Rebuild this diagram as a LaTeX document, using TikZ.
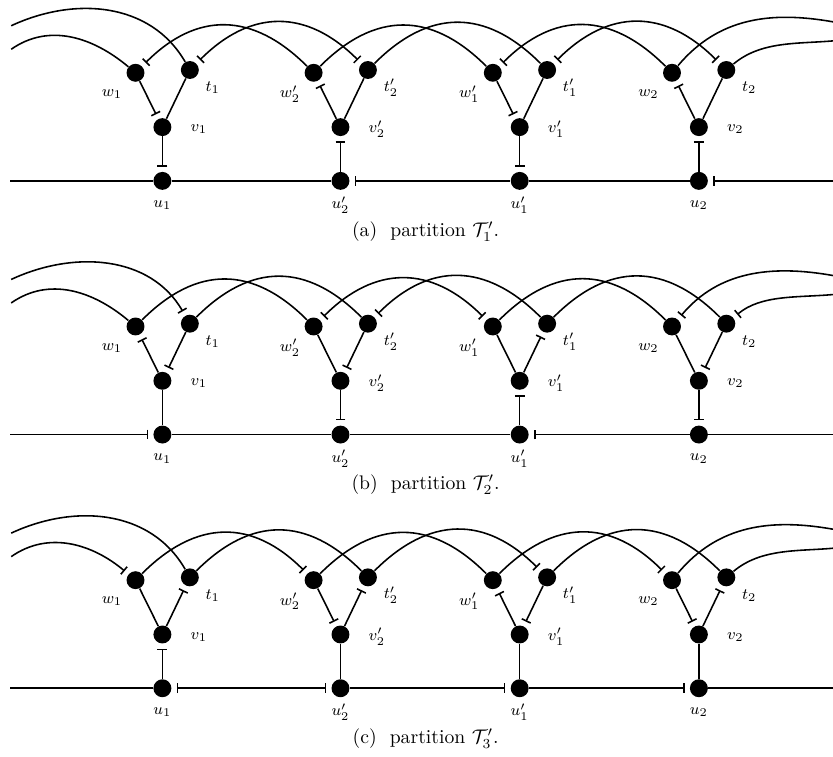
\documentclass[tikz,border=0pt]{standalone}
\usepackage{amsmath,amssymb}
\usetikzlibrary{arrows.meta, positioning}

\tikzset{
	dot/.style={circle, fill=black, inner sep=0pt, minimum size=0.32cm},
	lbl/.style={font=\footnotesize, inner sep=0pt},
	edge/.style={thick},
	barend/.style={edge, -{Bar[width=5pt]}, shorten >=2.5pt},
	barstart/.style={edge, {Bar[width=5pt]}-, shorten <=2.5pt},
	barboth/.style={edge, {Bar[width=5pt]}-{Bar[width=5pt]}, shorten <=2.5pt, shorten >=2.5pt},
	hop/.style={out=45, in=135, looseness=1.2},
	wrapin/.style={out=35, in=140},
	wrapinhi/.style={out=25, in=120},
	wrapout/.style={out=40, in=185, looseness=0.9},
	wrapouthi/.style={out=50, in=170}
}

% the four gadgets of one panel, node names start with #1
\newcommand{\gadgets}[1]{%
	\foreach \k/\x/\s/\p in {1/2.9/1/, 2/6.08/2/', 3/9.28/1/', 4/12.48/2/} {
		\node[dot] (#1v\k) at (\x, 0.96) {};
		\node[dot] (#1u\k) at (\x, 0) {};
		\node[dot] (#1w\k) at (\x-0.48, 1.93) {};
		\node[dot] (#1t\k) at (\x+0.49, 1.98) {};
		\node[lbl] (#1lw\k) at ([shift={(-0.42,-0.38)}]#1w\k) {$w\p_\s$};
		\node[lbl] (#1lt\k) at ([shift={(0.41,-0.32)}]#1t\k) {$t\p_\s$};
		\node[lbl] (#1lv\k) at ([shift={(0.65,-0.04)}]#1v\k) {$v\p_\s$};
		\node[lbl] (#1lu\k) at ([shift={(0,-0.43)}]#1u\k) {$u\p_\s$};
	}
	\coordinate (#1L0) at (0.18, 0);
	\coordinate (#1R0) at (14.875, 0);
	\coordinate (#1L1) at (0.2, 2.77);
	\coordinate (#1L2) at (0.2, 2.35);
	\coordinate (#1R1) at (14.875, 2.84);
	\coordinate (#1R2) at (14.875, 2.5);
}

\begin{document}
\begin{tikzpicture}
	\useasboundingbox (0,0) rectangle (14.875,13.5);
	
	% (a)
	\begin{scope}[yshift=10.27cm]
		\gadgets{a}
		\draw[barend] (aw1) -- (av1);
		\draw[edge] (at1) -- (av1);
		\draw[barend] (av1) -- (au1);
		\draw[barstart] (aw2) -- (av2);
		\draw[edge] (at2) -- (av2);
		\draw[barstart] (av2) -- (au2);
		\draw[barend] (aw3) -- (av3);
		\draw[edge] (at3) -- (av3);
		\draw[barend] (av3) -- (au3);
		\draw[barstart] (aw4) -- (av4);
		\draw[edge] (at4) -- (av4);
		\draw[barstart] (av4) -- (au4);
		
		\draw[edge] (aL0) -- (au1);
		\draw[edge] (au1) -- (au2);
		\draw[barstart] (au2) -- (au3);
		\draw[edge] (au3) -- (au4);
		\draw[barstart] (au4) -- (aR0);
		
		\draw[edge] (aL2) to[wrapin] (aw1);
		\draw[edge] (aL1) to[wrapinhi] (at1);
		\draw[barstart] (aw1) to[hop] (aw2);
		\draw[barboth] (at1) to[hop] (at2);
		\draw[edge] (aw2) to[hop] (aw3);
		\draw[edge] (at2) to[hop] (at3);
		\draw[barstart] (aw3) to[hop] (aw4);
		\draw[barboth] (at3) to[hop] (at4);
		\draw[edge] (aw4) to[wrapouthi] (aR1);
		\draw[edge] (at4) to[wrapout] (aR2);
		
		\node (capa) at (7.6, -0.9) {(a)~ partition $\mathcal{T}'_1$.};
	\end{scope}
	
	% (b)
	\begin{scope}[yshift=5.74cm]
		\gadgets{b}
		\draw[barstart] (bw1) -- (bv1);
		\draw[barend] (bt1) -- (bv1);
		\draw[edge] (bv1) -- (bu1);
		\draw[edge] (bw2) -- (bv2);
		\draw[barend] (bt2) -- (bv2);
		\draw[barend] (bv2) -- (bu2);
		\draw[edge] (bw3) -- (bv3);
		\draw[barstart] (bt3) -- (bv3);
		\draw[barstart] (bv3) -- (bu3);
		\draw[edge] (bw4) -- (bv4);
		\draw[barend] (bt4) -- (bv4);
		\draw[barend] (bv4) -- (bu4);
		
		\draw[barend] (bL0) -- (bu1);
		\draw[edge] (bu1) -- (bu2);
		\draw[edge] (bu2) -- (bu3);
		\draw[barstart] (bu3) -- (bu4);
		\draw[edge] (bu4) -- (bR0);
		
		\draw[edge] (bL2) to[wrapin] (bw1);
		\draw[barend] (bL1) to[wrapinhi] (bt1);
		\draw[edge] (bw1) to[hop] (bw2);
		\draw[edge] (bt1) to[hop] (bt2);
		\draw[barboth] (bw2) to[hop] (bw3);
		\draw[barstart] (bt2) to[hop] (bt3);
		\draw[edge] (bw3) to[hop] (bw4);
		\draw[edge] (bt3) to[hop] (bt4);
		\draw[barstart] (bw4) to[wrapouthi] (bR1);
		\draw[barstart] (bt4) to[wrapout] (bR2);
		
		\node (capb) at (7.6, -0.9) {(b)~ partition $\mathcal{T}'_2$.};
	\end{scope}
	
	% (c)
	\begin{scope}[yshift=1.21cm]
		\gadgets{c}
		\draw[edge] (cw1) -- (cv1);
		\draw[barstart] (ct1) -- (cv1);
		\draw[barstart] (cv1) -- (cu1);
		\draw[barend] (cw2) -- (cv2);
		\draw[barstart] (ct2) -- (cv2);
		\draw[edge] (cv2) -- (cu2);
		\draw[barstart] (cw3) -- (cv3);
		\draw[barend] (ct3) -- (cv3);
		\draw[edge] (cv3) -- (cu3);
		\draw[barend] (cw4) -- (cv4);
		\draw[barstart] (ct4) -- (cv4);
		\draw[edge] (cv4) -- (cu4);
		
		\draw[edge] (cL0) -- (cu1);
		\draw[barboth] (cu1) -- (cu2);
		\draw[barend] (cu2) -- (cu3);
		\draw[barend] (cu3) -- (cu4);
		\draw[edge] (cu4) -- (cR0);
		
		\draw[barend] (cL2) to[wrapin] (cw1);
		\draw[edge] (cL1) to[wrapinhi] (ct1);
		\draw[barend] (cw1) to[hop] (cw2);
		\draw[edge] (ct1) to[hop] (ct2);
		\draw[edge] (cw2) to[hop] (cw3);
		\draw[barend] (ct2) to[hop] (ct3);
		\draw[barend] (cw3) to[hop] (cw4);
		\draw[edge] (ct3) to[hop] (ct4);
		\draw[edge] (cw4) to[wrapouthi] (cR1);
		\draw[edge] (ct4) to[wrapout] (cR2);
		
		\node (capc) at (7.6, -0.9) {(c)~ partition $\mathcal{T}'_3$.};
	\end{scope}
\end{tikzpicture}
\end{document}
